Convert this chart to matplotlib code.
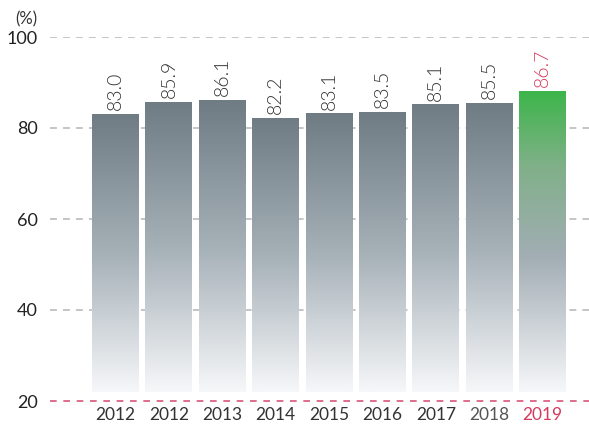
import numpy as np
import matplotlib
matplotlib.use("Agg")
from matplotlib import pyplot as plt
from matplotlib.colors import LinearSegmentedColormap

# chart data
years = ['2012', '2012', '2013', '2014', '2015', '2016', '2017', '2018', '2019']
values = [83.0, 85.9, 86.1, 82.2, 83.1, 83.5, 85.1, 85.5, 86.7]
# the drawn bar heights (last bar is drawn taller than its label)
bar_heights = [83.0, 85.7, 86.1, 82.2, 83.1, 83.5, 85.1, 85.5, 88.1]
year_colors = ['#333333'] * 7 + ['#555555', '#d63a5e']
value_colors = ['#333333'] * 8 + ['#d63a5e']
y_ticks = [20, 40, 60, 80, 100]
bar_base = 22

plt.rcParams['font.family'] = ['Lato', 'DejaVu Sans']

gray_cmap = LinearSegmentedColormap.from_list(
    'bar_gray', [(0.0, '#f6f7f9'), (0.5, '#a5b0b7'), (1.0, '#707c84')])
green_cmap = LinearSegmentedColormap.from_list(
    'bar_green', [(0.0, '#f6f7f9'), (0.45, '#a2adb4'), (0.75, '#80b089'), (1.0, '#3db54a')])

fig = plt.figure(figsize=(5.89, 4.29), dpi=100)
ax = fig.add_axes([50 / 589, 28 / 429, 539 / 589, 364 / 429])

ax.set_ylim(20, 100)
ax.set_xlim(-1.227, 8.87)

# dashed gridlines, the baseline one in red
for t in y_ticks:
    if t == 20:
        ax.axhline(t, color='#d9547a', lw=1.2, ls=(0, (4, 4)), zorder=1, clip_on=False)
    else:
        ax.axhline(t, color='#b5b5b5', lw=1.1, ls=(0, (4.5, 4)), zorder=1)

grad = np.linspace(0, 1, 256).reshape(-1, 1)
width = 0.88
for i, (v, h) in enumerate(zip(values, bar_heights)):
    cmap = green_cmap if i == len(values) - 1 else gray_cmap
    ax.imshow(grad, cmap=cmap, origin='lower', aspect='auto',
              extent=(i - width / 2, i + width / 2, bar_base, h), zorder=2)
    ax.text(i, h + 0.9, f'{v:.1f}', rotation=90, ha='center', va='bottom',
            fontsize=14, fontweight=300, color=value_colors[i])

ax.set_xticks(range(len(years)))
ax.set_xticklabels(years, fontsize=12.5)
for lbl, c in zip(ax.get_xticklabels(), year_colors):
    lbl.set_color(c)
ax.set_yticks(y_ticks)
ax.set_yticklabels([str(t) for t in y_ticks], fontsize=13, color='#222222')
ax.tick_params(axis='both', length=0)
ax.tick_params(axis='y', pad=9)
ax.tick_params(axis='x', pad=4)
for s in ax.spines.values():
    s.set_visible(False)

fig.text(15 / 589, 1 - 19 / 429, '(%)', fontsize=12, color='#333333', va='center')

fig.savefig('out.png', dpi=100)
